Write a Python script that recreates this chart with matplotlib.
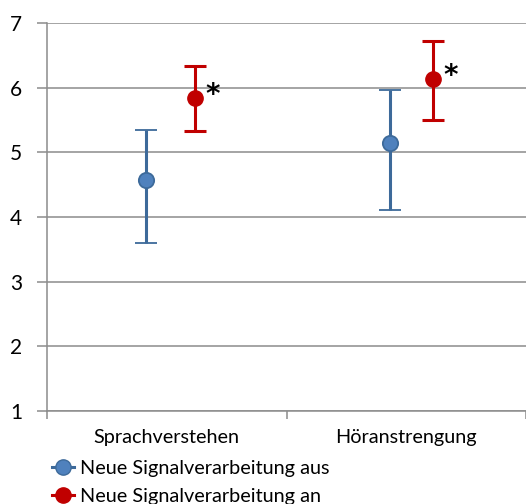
import numpy as np
import matplotlib.pyplot as plt
from matplotlib.lines import Line2D

categories = ["Sprachverstehen", "Höranstrengung"]
series_names = ["Neue Signalverarbeitung aus", "Neue Signalverarbeitung an"]
aus_mean = [4.57, 5.15]
aus_low = [3.60, 4.11]
aus_high = [5.35, 5.97]
an_mean = [5.84, 6.13]
an_low = [5.33, 5.50]
an_high = [6.34, 6.72]
significant = ["*", "*"]

plt.rcParams['font.family'] = ['Lato', 'DejaVu Sans']

fig = plt.figure(figsize=(5.26, 5.04), dpi=100)
ax = fig.add_axes([47 / 526, 93 / 504, 479 / 526, 388 / 504])

x = np.arange(len(categories))
grid_col = "#8c8c8c"

ax.set_ylim(1, 7)
ax.set_xlim(-0.5, 1.5)
ax.set_yticks(range(1, 8))
ax.yaxis.grid(True, color=grid_col, linewidth=1.1)
ax.set_axisbelow(True)
for s in ["top", "right"]:
    ax.spines[s].set_visible(False)
for s in ["left", "bottom"]:
    ax.spines[s].set_color(grid_col)
    ax.spines[s].set_linewidth(1.1)

ax.set_xticks([-0.5, 0.5, 1.5])
ax.set_xticklabels([])
ax.set_xticks(x, minor=True)
ax.set_xticklabels(categories, minor=True, fontsize=14.3)
ax.tick_params(axis="x", which="minor", length=0, pad=13)
ax.tick_params(axis="x", which="major", length=6, color=grid_col, width=1.1)
ax.tick_params(axis="y", length=7, color=grid_col, width=1.1, labelsize=15, pad=11)

aus = np.array(aus_mean)
an = np.array(an_mean)
off_aus = np.array([-0.088, -0.067])
off_an = np.array([0.12, 0.113])

blue_line = "#3d6a9a"
blue_fill = "#4f81bd"
red = "#c00000"

ax.errorbar(x + off_aus, aus, yerr=[aus - np.array(aus_low), np.array(aus_high) - aus],
            fmt="o", color=blue_line, ecolor=blue_line, elinewidth=2.2, capsize=8, capthick=2.2,
            markersize=11, markerfacecolor=blue_fill, markeredgecolor=blue_line, markeredgewidth=1.3)
ax.errorbar(x + off_an, an, yerr=[an - np.array(an_low), np.array(an_high) - an],
            fmt="o", color=red, ecolor=red, elinewidth=2.2, capsize=8, capthick=2.2,
            markersize=11, markerfacecolor=red, markeredgecolor=red)

for xi, yi, s in zip(x + off_an, an, significant):
    ax.annotate(s, (xi, yi), xytext=(7, 2.5), textcoords="offset points",
                fontsize=20, fontweight="bold", family="DejaVu Sans",
                ha="left", va="center")

handles = [
    Line2D([], [], color=blue_line, linewidth=2.2, marker="o", markersize=11,
           markerfacecolor=blue_fill, markeredgecolor=blue_line),
    Line2D([], [], color=red, linewidth=2.2, marker="o", markersize=11,
           markerfacecolor=red, markeredgecolor=red),
]
fig.legend(handles, series_names, loc="upper left", bbox_to_anchor=(52 / 526, 1 - 460 / 504),
           frameon=False, fontsize=14.3, handlelength=1.1, handletextpad=0.3,
           labelspacing=0.55, borderaxespad=0, borderpad=0)

fig.savefig("out.png", dpi=100)
